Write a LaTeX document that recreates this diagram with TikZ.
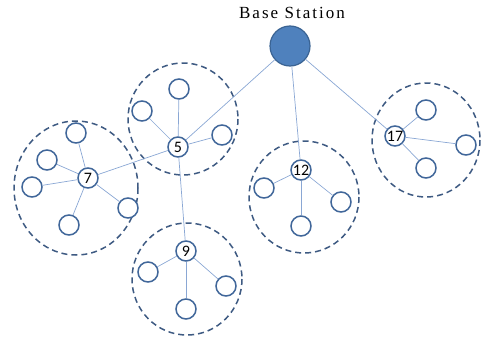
\documentclass[tikz,border=0pt]{standalone}
\usepackage{fontspec}
\setmainfont{Liberation Serif}
\newfontfamily\numfont{Carlito}
\newfontfamily\titlefont[LetterSpace=12]{Liberation Serif}
\newcommand{\hd}[1]{\makebox[0pt]{#1}}
\begin{document}
\begin{tikzpicture}[x=1pt,y=-1pt,
  leaf/.style={circle,draw=nodeblue,line width=1.5pt,fill=white,minimum size=20pt,inner sep=0pt},
  head/.style={leaf,font=\numfont\fontsize{16}{16}\selectfont},
  cluster/.style={draw=dashblue,line width=1.5pt,dash pattern=on 6pt off 4pt},
  link/.style={draw=linkblue,line width=0.7pt}]
\definecolor{nodeblue}{HTML}{41679A}
\definecolor{dashblue}{HTML}{3E5A82}
\definecolor{linkblue}{HTML}{8AA7D4}
\definecolor{bsfill}{HTML}{4F81BD}
\definecolor{bsdraw}{HTML}{3A6393}
\useasboundingbox (0,0) rectangle (481,340);
% clusters
\draw[cluster] (183,119) ellipse [x radius=55, y radius=56];
\draw[cluster] (76,188) ellipse [x radius=62, y radius=67];
\draw[cluster] (187,279) ellipse [x radius=55, y radius=56];
\draw[cluster] (304,197) ellipse [x radius=55, y radius=56];
\draw[cluster] (426,140) ellipse [x radius=54, y radius=57];
% base station
\node[circle,fill=bsfill,draw=bsdraw,line width=1.2pt,minimum size=40pt,inner sep=0pt] (bs) at (290,46) {};
\node[font=\titlefont\fontsize{17}{17}\selectfont] (bslabel) at (292,13) {Base Station};
% heads
\node[head] (n5) at (178,147) {\hd{5}};
\node[head] (n7) at (88,178) {\hd{7}};
\node[head] (n9) at (186,251) {\hd{9}};
\node[head] (n12) at (301,170) {\hd{12}};
\node[head] (n17) at (395,136) {\hd{17}};
% leaves
\node[leaf] (a1) at (179,89) {};
\node[leaf] (a2) at (142,111) {};
\node[leaf] (a3) at (222,135) {};
\node[leaf] (b1) at (76,133) {};
\node[leaf] (b2) at (47,160) {};
\node[leaf] (b3) at (32,187) {};
\node[leaf] (b4) at (128,208) {};
\node[leaf] (b5) at (69,225) {};
\node[leaf] (c1) at (148,272) {};
\node[leaf] (c2) at (226,286) {};
\node[leaf] (c3) at (186,309) {};
\node[leaf] (d1) at (264,188) {};
\node[leaf] (d2) at (341,202) {};
\node[leaf] (d3) at (301,226) {};
\node[leaf] (e1) at (426,110) {};
\node[leaf] (e2) at (466,145) {};
\node[leaf] (e3) at (426,168) {};
% links
\path[link] (bs) -- (n5);
\path[link] (bs) -- (n12);
\path[link] (bs) -- (n17);
\path[link] (n5) -- (n7);
\path[link] (n5) -- (n9);
\foreach \l in {a1,a2,a3} \path[link] (n5) -- (\l);
\foreach \l in {b1,b2,b3,b4,b5} \path[link] (n7) -- (\l);
\foreach \l in {c1,c2,c3} \path[link] (n9) -- (\l);
\foreach \l in {d1,d2,d3} \path[link] (n12) -- (\l);
\foreach \l in {e1,e2,e3} \path[link] (n17) -- (\l);
\end{tikzpicture}
\end{document}
